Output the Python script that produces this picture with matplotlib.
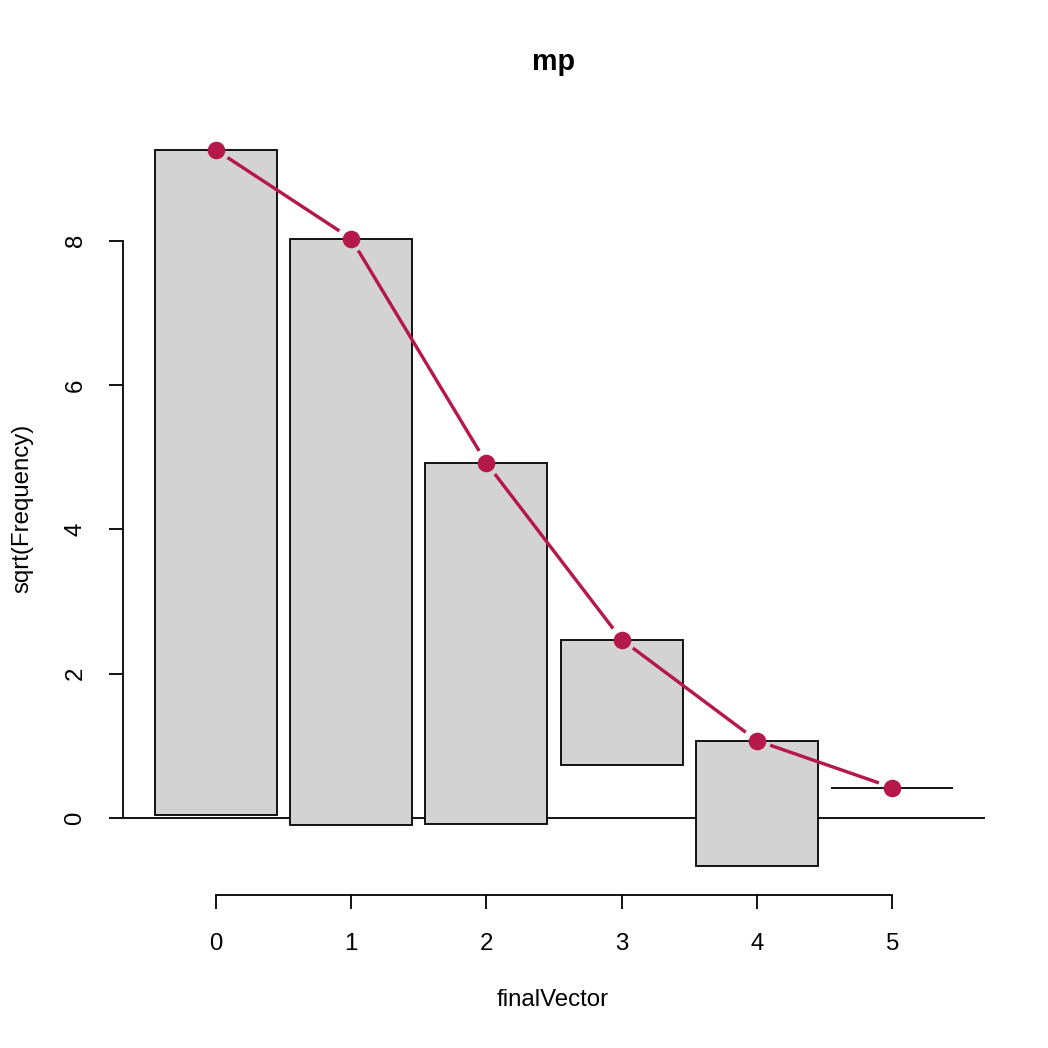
import matplotlib
matplotlib.use('Agg')
import matplotlib.pyplot as plt
import numpy as np

plt.rcParams['font.family'] = ['Liberation Sans', 'DejaVu Sans']

# hanging rootogram: bar tops sit on the fitted curve
counts = [0, 1, 2, 3, 4, 5]
fitted_sqrt = [9.26, 8.03, 4.92, 2.47, 1.07, 0.42]
observed = [85, 66, 25, 3, 3, 0]
xticks = [0, 1, 2, 3, 4, 5]
yticks = [0, 2, 4, 6, 8]

RED = '#B5194B'
DPI = 144
fig = plt.figure(figsize=(1048 / DPI, 1048 / DPI), dpi=DPI)
ax = fig.add_axes([123 / 1048, 1 - 895 / 1048, 862 / 1048, 774 / 1048])

x = np.array(counts, dtype=float)
top = np.array(fitted_sqrt)
obs = np.sqrt(np.array(observed, dtype=float))
bottom = top - obs

ax.bar(x, obs, bottom=bottom, width=0.9, color='#D3D3D3',
       edgecolor='black', linewidth=0.9, zorder=2)
ax.axhline(0, color='black', lw=0.9, zorder=1)

ax.set_xlim(-0.686, 5.686)
ax.set_ylim(-1.07, 9.66)

# type="b" style line: segments with gaps around the points
fig.canvas.draw()
pts = ax.transData.transform(np.column_stack([x, top]))
gap = 14.0
inv = ax.transData.inverted()
for i in range(len(pts) - 1):
    p0, p1 = pts[i], pts[i + 1]
    d = p1 - p0
    L = np.hypot(*d)
    if L <= 2 * gap:
        continue
    u = d / L
    a = inv.transform(p0 + u * gap)
    b = inv.transform(p1 - u * gap)
    ax.plot([a[0], b[0]], [a[1], b[1]], color=RED, lw=1.7,
            solid_capstyle='butt', zorder=3)
ax.plot(x, top, 'o', color=RED, ms=7.8, zorder=4)

for s in ['top', 'right']:
    ax.spines[s].set_visible(False)
ax.spines['left'].set_bounds(0, 8)
ax.spines['bottom'].set_bounds(0, 5)
ax.spines['left'].set_linewidth(0.9)
ax.spines['bottom'].set_linewidth(0.9)
ax.set_xticks(xticks)
ax.set_yticks(yticks)
ax.set_xticklabels([str(t) for t in xticks])
ax.set_yticklabels([str(t) for t in yticks], rotation=90, va='center')
ax.tick_params(length=7.2, width=0.9, labelsize=12)
ax.tick_params(axis='x', pad=12)
ax.tick_params(axis='y', pad=11)

fig.text(553 / 1048, 1 - 62 / 1048, 'mp', ha='center', va='center',
         fontsize=14.4, fontweight='bold')
fig.text(553 / 1048, 1 - 1000 / 1048, 'finalVector', ha='center',
         va='center', fontsize=12)
fig.text(22 / 1048, 1 - 508 / 1048, 'sqrt(Frequency)', ha='center',
         va='center', fontsize=12, rotation=90)

fig.savefig('out.png', dpi=DPI, facecolor='white')
